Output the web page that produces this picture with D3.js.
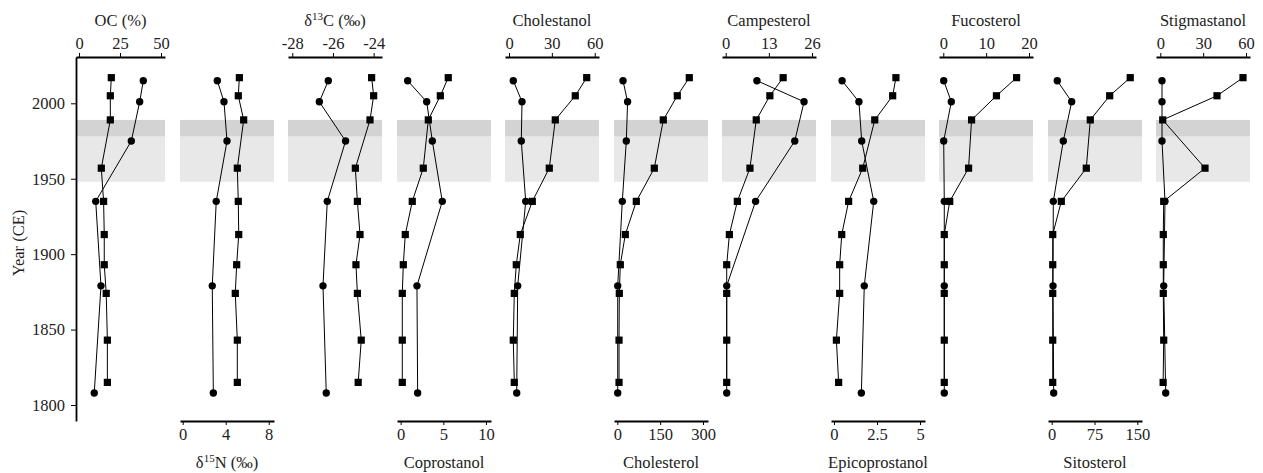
<!DOCTYPE html>
<html lang='en'>
  <head>
    <meta charset='utf-8'>
    <style>
      body { margin: 0; background: #fff; }
      svg { display: block; font-family: 'Liberation Serif', 'Times New Roman', serif; }
    </style>
  </head>
  <body>
    <div id='chart'></div>
    <script src='https://cdn.jsdelivr.net/npm/d3@7/dist/d3.min.js'></script>
    <script>
      // sample years for the two cores (circles / squares)
      var yearsCircle = [2015, 2001, 1975, 1935, 1879, 1808];
      var yearsSquare = [2017, 2005, 1989, 1957, 1935, 1913, 1893, 1874, 1843, 1815];

      var names = ['OC (%)', 'd15N', 'd13C', 'Coprostanol', 'Cholestanol', 'Cholesterol',
                   'Campesterol', 'Epicoprostanol', 'Fucosterol', 'Sitosterol', 'Stigmastanol'];

      var circleValues = [
        [39.2, 37.0, 31.9, 10.2, 13.4, 9.3],
        [3.22, 3.84, 4.12, 3.12, 2.75, 2.85],
        [-26.23, -26.67, -25.38, -26.28, -26.49, -26.33],
        [0.82, 3.05, 3.71, 4.88, 1.91, 1.99],
        [3.0, 9.1, 8.6, 11.7, 6.1, 5.4],
        [20, 36, 31.5, 17.5, 1.4, 1.4],
        [9.4, 23.6, 20.8, 9.0, 0.3, 0.3],
        [0.47, 1.45, 1.61, 2.31, 1.76, 1.59],
        [0.1, 1.87, 0.1, 0.23, 0.23, 0.23],
        [9.8, 35, 20.3, 2.8, 2.3, 3.5],
        [1.2, 1.2, 1.2, 3.3, 2.4, 3.8]
      ];

      var squareValues = [
        [19.7, 19.1, 19.1, 13.6, 15.0, 15.4, 15.4, 16.6, 17.3, 17.3],
        [5.27, 5.17, 5.67, 5.08, 5.17, 5.21, 5.02, 4.89, 5.08, 5.08],
        [-24.10, -24.0, -24.18, -24.90, -24.80, -24.67, -24.87, -24.80, -24.61, -24.76],
        [5.58, 4.65, 3.24, 2.65, 1.36, 0.54, 0.31, 0.19, 0.19, 0.19],
        [54.4, 46.4, 32.4, 28.2, 16.3, 7.9, 5.1, 3.7, 3.0, 3.7],
        [252, 210, 161, 129.5, 66.5, 28, 10.5, 7, 6, 6],
        [17.3, 13.3, 9.2, 7.3, 3.5, 1.1, 0.3, 0.3, 0.3, 0.3],
        [3.60, 3.41, 2.37, 1.67, 0.85, 0.45, 0.33, 0.33, 0.14, 0.27],
        [17.1, 12.4, 6.6, 5.9, 1.5, 0.23, 0.23, 0.23, 0.23, 0.23],
        [137.6, 101.6, 67.6, 60.6, 16.8, 1.8, 1.8, 1.8, 1.8, 1.8],
        [57.9, 39.7, 1.7, 31.3, 2.4, 2.1, 2.1, 2.1, 2.4, 2.0]
      ];

      var tickValues = [
        [0, 25, 50], [0, 4, 8], [-28, -26, -24], [0, 5, 10], [0, 30, 60], [0, 150, 300],
        [0, 13, 26], [0, 2.5, 5], [0, 10, 20], [0, 75, 150], [0, 30, 60]
      ];
      var xDomains = [
        [-1.83, 52.44], [-0.25, 8.49], [-28.21, -23.59], [-0.43, 10.59], [-2.8, 63.0],
        [-11.6, 317.5], [-1.12, 27.2], [-0.174, 5.29], [-1.0, 20.93], [-6.48, 158.2], [-3.0, 62.8]
      ];
      var yearTicks = [1800, 1850, 1900, 1950, 2000];
      var bands = [[1948, 1978, '#e8e8e8'], [1978, 1989, '#d3d3d3']];

      var width = 1263, height = 473;
      var plotTop = 57, plotBottom = 421;
      var lefts = [76, 180, 288, 397, 505, 614, 722, 831, 939, 1048, 1156];
      var panelW = 94;
      var fs = 16.5;
      var fmt = function (d) { return String(d); };

      var svg = d3.select('#chart').append('svg')
          .attr('width', width)
          .attr('height', height);

      var y = d3.scaleLinear().domain([1789.4, 2030.7]).range([plotBottom, plotTop]);

      names.forEach(function (name, i) {
        var x0 = lefts[i], x1 = i === 0 ? 165 : x0 + panelW;
        var x = d3.scaleLinear().domain(xDomains[i]).range([x0, x1]);
        var g = svg.append('g');

        g.selectAll('rect.band')
            .data(bands)
          .enter().append('rect')
            .attr('class', 'band')
            .attr('x', x0)
            .attr('width', x1 - x0)
            .attr('y', function (d) { return y(d[1]); })
            .attr('height', function (d) { return y(d[0]) - y(d[1]); })
            .attr('fill', function (d) { return d[2]; });

        var circ = yearsCircle.map(function (yr, j) { return [circleValues[i][j], yr]; });
        var sq = yearsSquare.map(function (yr, j) { return [squareValues[i][j], yr]; });
        var line = d3.line().x(function (d) { return x(d[0]); }).y(function (d) { return y(d[1]); });

        g.append('path').attr('d', line(circ)).attr('fill', 'none').attr('stroke', '#000').attr('stroke-width', 1);
        g.append('path').attr('d', line(sq)).attr('fill', 'none').attr('stroke', '#000').attr('stroke-width', 1);

        g.selectAll('circle')
            .data(circ)
          .enter().append('circle')
            .attr('cx', function (d) { return x(d[0]); })
            .attr('cy', function (d) { return y(d[1]); })
            .attr('r', 3.7)
            .attr('fill', '#000');

        g.selectAll('rect.sq')
            .data(sq)
          .enter().append('rect')
            .attr('class', 'sq')
            .attr('x', function (d) { return x(d[0]) - 3.6; })
            .attr('y', function (d) { return y(d[1]) - 3.6; })
            .attr('width', 7.2)
            .attr('height', 7.2)
            .attr('fill', '#000');

        var onTop = i % 2 === 0;
        var axis = onTop ? d3.axisTop(x) : d3.axisBottom(x);
        axis.tickValues(tickValues[i]).tickSize(4).tickPadding(onTop ? 4 : 3).tickSizeOuter(0).tickFormat(fmt);
        var ag = svg.append('g')
            .attr('transform', 'translate(0,' + (onTop ? plotTop : plotBottom) + ')')
            .call(axis);
        ag.select('.domain').attr('stroke-width', 1.8);
        ag.selectAll('.tick line').attr('stroke-width', 1);
        ag.selectAll('.tick text')
            .attr('font-size', fs)
            .attr('font-family', "'Liberation Serif', serif")
            .attr('fill', '#222');

        var title = svg.append('text')
            .attr('x', (x0 + x1) / 2)
            .attr('y', onTop ? 26 : 468)
            .attr('text-anchor', 'middle')
            .attr('font-size', fs)
            .attr('fill', '#222');
        if (name === 'd13C' || name === 'd15N') {
          title.append('tspan').text('\u03b4');
          title.append('tspan').attr('font-size', 11).attr('dy', -6).text(name.slice(1, 3));
          title.append('tspan').attr('dy', 6).text(name.slice(3) + ' (\u2030)');
        } else {
          title.text(name);
        }
      });

      // shared year axis
      var yAxis = svg.append('g')
          .attr('transform', 'translate(76,0)')
          .call(d3.axisLeft(y).tickValues(yearTicks).tickSize(5).tickPadding(6).tickSizeOuter(0).tickFormat(fmt));
      yAxis.select('.domain').attr('stroke-width', 1.8);
      yAxis.selectAll('.tick text')
          .attr('font-size', fs)
          .attr('font-family', "'Liberation Serif', serif")
          .attr('fill', '#222');

      svg.append('text')
          .attr('transform', 'translate(24,243) rotate(-90)')
          .attr('text-anchor', 'middle')
          .attr('font-size', fs)
          .attr('fill', '#222')
          .text('Year (CE)');
    </script>
  </body>
</html>
